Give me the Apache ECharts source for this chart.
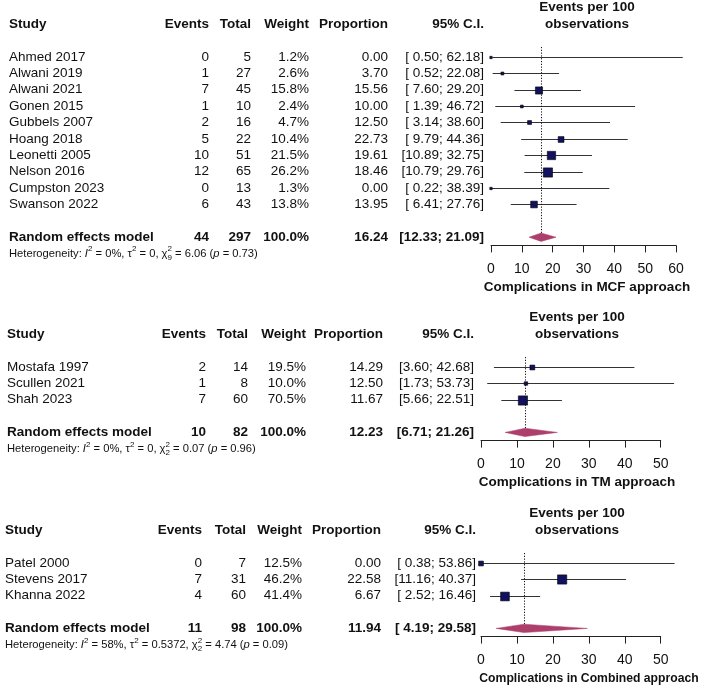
<!DOCTYPE html>
<html><head><meta charset="utf-8">
<script src="https://cdn.jsdelivr.net/npm/echarts@6/dist/echarts.min.js"></script>
<style>html,body{margin:0;padding:0;background:#fff}#c{width:702px;height:688px}</style>
</head><body><div id="c"></div>
<script>
// ---------- DATA ----------
// Panel 1: MCF approach
const studies1 = ['Ahmed 2017','Alwani 2019','Alwani 2021','Gonen 2015','Gubbels 2007','Hoang 2018','Leonetti 2005','Nelson 2016','Cumpston 2023','Swanson 2022'];
const events1  = [0,1,7,1,2,5,10,12,0,6];
const totals1  = [5,27,45,10,16,22,51,65,13,43];
const weights1 = [1.2,2.6,15.8,2.4,4.7,10.4,21.5,26.2,1.3,13.8];
const props1   = [0.00,3.70,15.56,10.00,12.50,22.73,19.61,18.46,0.00,13.95];
const lower1   = [0.50,0.52,7.60,1.39,3.14,9.79,10.89,10.79,0.22,6.41];
const upper1   = [62.18,22.08,29.20,46.72,38.60,44.36,32.75,29.76,38.39,27.76];
const ticks1   = [0,10,20,30,40,50,60];

// Panel 2: TM approach
const studies2 = ['Mostafa 1997','Scullen 2021','Shah 2023'];
const events2  = [2,1,7];
const totals2  = [14,8,60];
const weights2 = [19.5,10.0,70.5];
const props2   = [14.29,12.50,11.67];
const lower2   = [3.60,1.73,5.66];
const upper2   = [42.68,53.73,22.51];
const ticks2   = [0,10,20,30,40,50];

// Panel 3: Combined approach
const studies3 = ['Patel 2000','Stevens 2017','Khanna 2022'];
const events3  = [0,7,4];
const totals3  = [7,31,60];
const weights3 = [12.5,46.2,41.4];
const props3   = [0.00,22.58,6.67];
const lower3   = [0.38,11.16,2.52];
const upper3   = [53.86,40.37,16.46];
const ticks3   = [0,10,20,30,40,50];

// Pooled (random effects) per panel
const pooledEvents = [44,10,11];
const pooledTotals = [297,82,98];
const pooledProps  = [16.24,12.23,11.94];
const pooledLower  = [12.33,6.71,4.19];
const pooledUpper  = [21.09,21.26,29.58];

// Heterogeneity per panel
const hetI2   = ['0','0','58'];
const hetTau2 = ['0','0','0.5372'];
const hetDf   = ['9','2','2'];
const hetQ    = ['6.06','0.07','4.74'];
const hetP    = ['0.73','0.96','0.09'];

const axisTitles = ['Complications in MCF approach','Complications in TM approach','Complications in Combined approach'];

// ---------- LAYOUT ----------
const FONT = '"Liberation Sans", Arial, Helvetica, sans-serif';
const ROWH = 16.4;
const layout = [
  {gridLeft:491, gridW:185,   gridTop:24,  axisRow:13.5, cols:{study:9, events:209,total:251,weight:309,prop:388,ci:484}, hdrX:587, titleX:587, titleSize:13.5},
  {gridLeft:481, gridW:179.7, gridTop:334, axisRow:6.5,  cols:{study:7, events:206,total:248,weight:306,prop:383,ci:474}, hdrX:577, titleX:577, titleSize:13.5},
  {gridLeft:481, gridW:179.7, gridTop:530, axisRow:6.5,  cols:{study:5, events:202,total:246,weight:302,prop:381,ci:476}, hdrX:577, titleX:589, titleSize:12.2}
];
const panels = [
  {studies:studies1,events:events1,totals:totals1,weights:weights1,props:props1,lower:lower1,upper:upper1,ticks:ticks1},
  {studies:studies2,events:events2,totals:totals2,weights:weights2,props:props2,lower:lower2,upper:upper2,ticks:ticks2},
  {studies:studies3,events:events3,totals:totals3,weights:weights3,props:props3,lower:lower3,upper:upper3,ticks:ticks3}
];

const mctx = document.createElement('canvas').getContext('2d');
function textW(str, size, bold, italic){
  mctx.font = (italic?'italic ':'') + (bold?'bold ':'') + size + 'px ' + FONT;
  return mctx.measureText(str).width;
}
function T(text, x, y, o){
  o = o || {};
  const size = o.size || 13.5;
  const align = o.align || 'left';
  return {type:'text', x:x, y:y, silent:true, style:{
    text:String(text), fill:o.color||'#111',
    font:(o.italic?'italic ':'') + (o.bold?'bold ':'') + size + 'px ' + FONT,
    align:align, verticalAlign:'middle', textAlign:align, textVerticalAlign:'middle'
  }};
}
function fmtCI(lo, hi, pad){
  const l = lo.toFixed(2);
  return '[' + (pad && l.length < 5 ? ' ' : '') + l + '; ' + hi.toFixed(2) + ']';
}
function hetPieces(k, x0, y){
  const size = 11.2, small = 8, up = -4.5, down = 3.8;
  const out = []; let x = x0;
  function add(str, opt){
    opt = opt || {};
    const s = opt.size || size;
    out.push(T(str, x, y + (opt.dy||0), {size:s, italic:opt.italic}));
    x += textW(str, s, false, opt.italic);
  }
  add('Heterogeneity: ');
  add('I', {italic:true});
  add('2', {size:small, dy:up});
  add(' = ' + hetI2[k] + '%, \u03C4');
  add('2', {size:small, dy:up});
  add(' = ' + hetTau2[k] + ', \u03C7');
  out.push(T('2', x, y + up, {size:small}));
  out.push(T(hetDf[k], x, y + down, {size:small}));
  x += Math.max(textW('2', small), textW(hetDf[k], small));
  add(' = ' + hetQ[k] + ' (');
  add('p', {italic:true});
  add(' = ' + hetP[k] + ')');
  return out;
}
const snap = function(v){ return Math.round(v) + 0.5; };

const grids = [], xAxes = [], yAxes = [], series = [];
panels.forEach(function(P, k){
  const L = layout[k];
  const n = P.studies.length;
  const randRow = n + 3, hetRow = n + 4;
  const maxW = Math.max.apply(null, P.weights);
  const padCI = P.lower.concat([pooledLower[k]]).some(function(v){ return v >= 10; });

  grids.push({left:L.gridLeft, top:L.gridTop, width:L.gridW, height:L.axisRow*ROWH, containLabel:false});
  xAxes.push({
    gridIndex:k, type:'value', min:P.ticks[0], max:P.ticks[P.ticks.length-1], interval:P.ticks[1]-P.ticks[0],
    axisLine:{show:true, onZero:false, lineStyle:{color:'#222', width:1}},
    axisTick:{show:true, length:7, lineStyle:{color:'#222', width:1}},
    axisLabel:{fontSize:14, color:'#111', margin:17, fontFamily:FONT},
    splitLine:{show:false}
  });
  yAxes.push({gridIndex:k, type:'value', min:0, max:L.axisRow, inverse:true, show:false});

  // study CIs + squares
  series.push({
    type:'custom', xAxisIndex:k, yAxisIndex:k, clip:false, silent:true,
    data: P.studies.map(function(s, i){ return [P.props[i], i + 2, P.lower[i], P.upper[i], P.weights[i]]; }),
    encode:{x:0, y:1},
    renderItem:function(params, api){
      const est = api.value(0), row = api.value(1), lo = api.value(2), hi = api.value(3), w = api.value(4);
      const a = api.coord([lo, row]), b = api.coord([hi, row]), c = api.coord([est, row]);
      const s = Math.max(2.4, 9.2 * Math.sqrt(w / maxW));
      const yl = snap(a[1]);
      return {type:'group', children:[
        {type:'line', shape:{x1:a[0], y1:yl, x2:b[0], y2:yl}, style:{stroke:'#333', lineWidth:1}},
        {type:'rect', shape:{x:c[0]-s/2, y:yl-s/2, width:s, height:s}, style:{fill:'#111160', stroke:'#000', lineWidth:0.6}}
      ]};
    }
  });
  // pooled: dotted reference line + diamond
  series.push({
    type:'custom', xAxisIndex:k, yAxisIndex:k, clip:false, silent:true,
    data:[[pooledProps[k], randRow, pooledLower[k], pooledUpper[k]]],
    encode:{x:0, y:1},
    renderItem:function(params, api){
      const est = api.value(0), row = api.value(1), lo = api.value(2), hi = api.value(3);
      const top = api.coord([est, 1.4]), c = api.coord([est, row]);
      const a = api.coord([lo, row]), b = api.coord([hi, row]);
      const h = 4.2, xd = snap(top[0]);
      return {type:'group', children:[
        {type:'line', shape:{x1:xd, y1:top[1], x2:xd, y2:c[1]}, style:{stroke:'#111', lineWidth:1, lineDash:[1.2, 1.6]}},
        {type:'polygon', shape:{points:[[a[0],c[1]],[c[0],c[1]-h],[b[0],c[1]],[c[0],c[1]+h]]}, style:{fill:'#ad3f6d', stroke:'#ad3f6d', lineWidth:0.5}}
      ]};
    }
  });
  // table text
  series.push({
    type:'custom', xAxisIndex:k, yAxisIndex:k, clip:false, silent:true,
    data:[[0,0]],
    renderItem:function(params, api){
      const C = L.cols;
      const Y = function(r){ return api.coord([0, r])[1]; };
      const ch = [];
      ch.push(T('Events per 100', L.hdrX, Y(-1), {bold:true, align:'center'}));
      ch.push(T('observations', L.hdrX, Y(0), {bold:true, align:'center'}));
      const y0 = Y(0);
      ch.push(T('Study', C.study, y0, {bold:true}));
      ch.push(T('Events', C.events, y0, {bold:true, align:'right'}));
      ch.push(T('Total', C.total, y0, {bold:true, align:'right'}));
      ch.push(T('Weight', C.weight, y0, {bold:true, align:'right'}));
      ch.push(T('Proportion', C.prop, y0, {bold:true, align:'right'}));
      ch.push(T('95% C.I.', C.ci, y0, {bold:true, align:'right'}));
      P.studies.forEach(function(s, i){
        const y = Y(i + 2);
        ch.push(T(s, C.study, y));
        ch.push(T(P.events[i], C.events, y, {align:'right'}));
        ch.push(T(P.totals[i], C.total, y, {align:'right'}));
        ch.push(T(P.weights[i].toFixed(1) + '%', C.weight, y, {align:'right'}));
        ch.push(T(P.props[i].toFixed(2), C.prop, y, {align:'right'}));
        ch.push(T(fmtCI(P.lower[i], P.upper[i], padCI), C.ci, y, {align:'right'}));
      });
      const yr = Y(randRow);
      ch.push(T('Random effects model', C.study, yr, {bold:true}));
      ch.push(T(pooledEvents[k], C.events, yr, {bold:true, align:'right'}));
      ch.push(T(pooledTotals[k], C.total, yr, {bold:true, align:'right'}));
      ch.push(T('100.0%', C.weight, yr, {bold:true, align:'right'}));
      ch.push(T(pooledProps[k].toFixed(2), C.prop, yr, {bold:true, align:'right'}));
      ch.push(T(fmtCI(pooledLower[k], pooledUpper[k], padCI), C.ci, yr, {bold:true, align:'right'}));
      hetPieces(k, C.study, Y(hetRow)).forEach(function(e){ ch.push(e); });
      ch.push(T(axisTitles[k], L.titleX, Y(L.axisRow) + 42, {bold:true, align:'center', size:L.titleSize}));
      return {type:'group', children:ch};
    }
  });
});

const chart = echarts.init(document.getElementById('c'), null, {renderer:'canvas'});
chart.setOption({
  animation:false,
  backgroundColor:'#fff',
  textStyle:{fontFamily:FONT},
  grid:grids, xAxis:xAxes, yAxis:yAxes, series:series
});
</script>
</body></html>
